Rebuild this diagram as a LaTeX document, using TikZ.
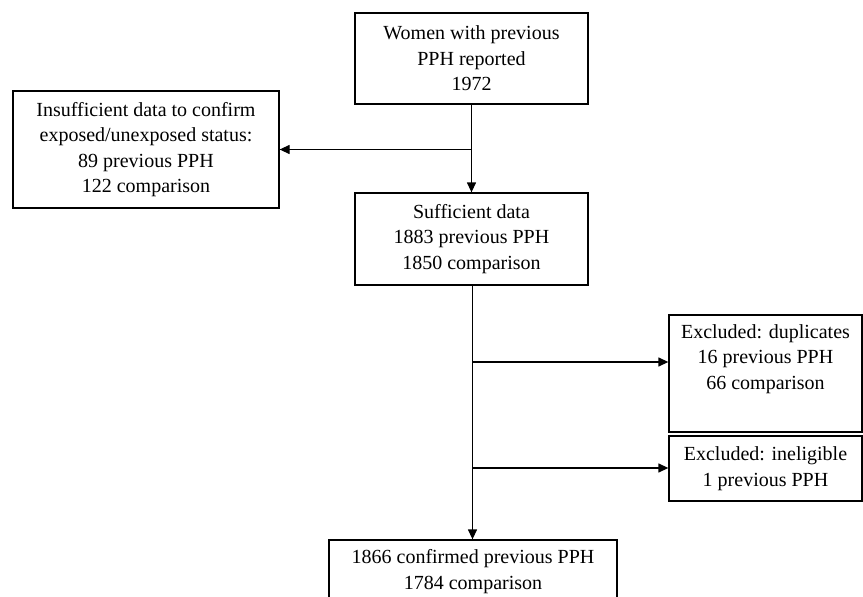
\documentclass[tikz,border=0pt]{standalone}
\usepackage{fontspec}
\setmainfont{Liberation Serif}
\usetikzlibrary{arrows.meta}
\tikzset{
  box/.style={draw=black, line width=1.3pt, inner sep=0pt, align=center,
    font=\fontsize{20}{25.5}\selectfont},
  conn/.style={draw=black, line width=1.3pt},
  arr/.style={conn, -{Triangle[length=10pt,width=9pt]}}
}
\begin{document}
\begin{tikzpicture}[x=1pt,y=-1pt]
\clip (0,0) rectangle (863,597);
\fill[white] (0,0) rectangle (863,597);
\node[box, minimum width=233pt, minimum height=91pt] (top) at (471.5,58.5)
  {Women with previous\\PPH reported\\1972};
\node[box, minimum width=266pt, minimum height=117pt] (left) at (146,149.5)
  {Insufficient data to confirm\\exposed/unexposed status:\\89 previous PPH\\122 comparison};
\node[box, minimum width=233pt, minimum height=92pt] (suff) at (471.5,239)
  {Sufficient data\\1883 previous PPH\\1850 comparison};
\node[box, minimum width=193pt, minimum height=117pt] (dup) at (765.5,373.5)
  {Excluded: duplicates\\16 previous PPH\\66 comparison\\\strut};
\node[box, minimum width=193pt, minimum height=65pt] (inel) at (765.5,468.5)
  {Excluded: ineligible\\1 previous PPH};
\node[box, minimum width=288pt, minimum height=63pt] (bot) at (473,571.5)
  {1866 confirmed previous PPH\\1784 comparison};
\coordinate (j1) at (top.south |- left.east);
\coordinate (j2) at (472.5,362);
\coordinate (j3) at (472.5,468);
\coordinate (s1) at (472.5,285);
\draw[arr] (top.south) -- (suff.north);
\draw[arr] (j1) -- (left.east);
\draw[arr] (s1) -- (s1 |- bot.north);
\draw[arr] (j2) -- (j2 -| dup.west);
\draw[arr] (j3) -- (j3 -| inel.west);
\end{tikzpicture}
\end{document}
